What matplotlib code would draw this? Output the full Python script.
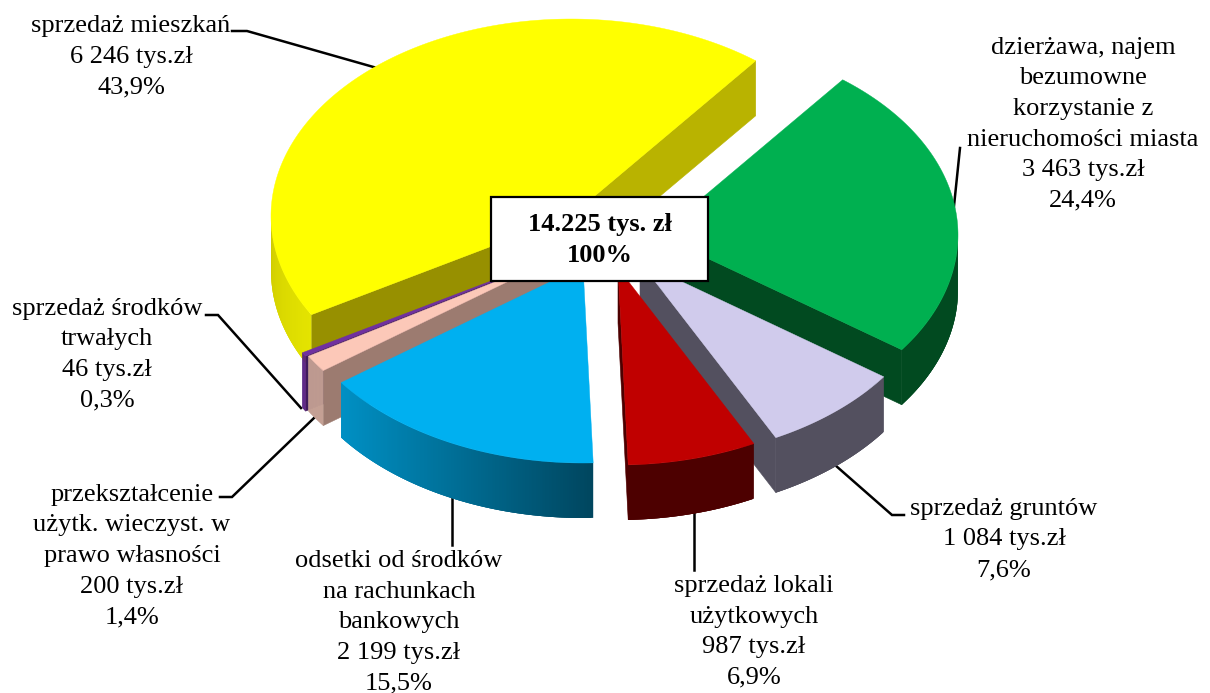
import numpy as np
import matplotlib
matplotlib.use('Agg')
import matplotlib.pyplot as plt
from matplotlib.collections import PolyCollection
from matplotlib.patches import Rectangle

# clockwise from the green slice
names = ['dzierżawa', 'grunty', 'lokale', 'odsetki', 'przeksztalcenie', 'srodki', 'mieszkania']
values = [3463, 1084, 987, 2199, 200, 46, 6246]

labels = [
    'dzierżawa, najem\nbezumowne\nkorzystanie z\nnieruchomości miasta\n3 463 tys.zł\n24,4%',
    'sprzedaż gruntów\n1 084 tys.zł\n7,6%',
    'sprzedaż lokali\nużytkowych\n987 tys.zł\n6,9%',
    'odsetki od środków\nna rachunkach\nbankowych\n2 199 tys.zł\n15,5%',
    'przekształcenie\nużytk. wieczyst. w\nprawo własności\n200 tys.zł\n1,4%',
    'sprzedaż środków\ntrwałych\n46 tys.zł\n0,3%',
    'sprzedaż mieszkań\n6 246 tys.zł\n43,9%',
]
center_text = '14.225 tys. zł\n100%'

# layout: exploded apex of every slice and label anchor, in pixels
apex = {'dzierżawa': (658, 235), 'grunty': (640, 262), 'lokale': (618, 268), 'odsetki': (583, 266),
        'przeksztalcenie': (565, 254), 'srodki': (562, 254), 'mieszkania': (571, 216)}
label_pos = [(1083, 37), (1004, 498), (754, 575), (399, 550), (132, 484), (107, 298), (131, 15)]
leaders = [
    [(954, 206), (960, 148)],
    [(835, 465), (892, 515), (904, 515)],
    [(694, 513), (694, 570)],
    [(452, 497), (452, 545)],
    [(314, 418), (232, 497), (220, 497)],
    [(301, 408), (218, 315), (206, 315)],
    [(377, 68), (247, 31), (232, 31)],
]

# top, first radial wall, second radial wall, outer wall left / right
styles = {
    'dzierżawa': ('#00b050', '#014a20', '#014a20', '#014a20', '#014a20'),
    'grunty': ('#d0cbec', '#53505f', '#53505f', '#53505f', '#53505f'),
    'lokale': ('#c00000', '#4d0000', '#4d0000', '#4d0000', '#4d0000'),
    'odsetki': ('#00b0f0', '#004a68', '#004a68', '#0090c4', '#00465f'),
    'przeksztalcenie': ('#fcc8b8', '#9c7b70', '#9c7b70', '#c4a094', '#c4a094'),
    'srodki': ('#7030a0', '#3f1b5c', '#3f1b5c', '#5f2a88', '#5f2a88'),
    'mieszkania': ('#ffff00', '#979000', '#b9b300', '#e4e400', '#d0cc00'),
}
draw_order = ['mieszkania', 'srodki', 'przeksztalcenie', 'dzierżawa', 'grunty', 'lokale', 'odsetki']

rx, ry, depth = 300, 197, 55
start_angle = 52

plt.rcParams['font.family'] = ['Liberation Serif', 'DejaVu Serif']
fig = plt.figure(figsize=(12.1, 6.93), dpi=100)
ax = fig.add_axes([0, 0, 1, 1])
ax.set_xlim(0, 1210)
ax.set_ylim(693, 0)
ax.axis('off')

for pts in leaders:
    ax.plot(*zip(*pts), color='black', lw=1.8, solid_joinstyle='miter', zorder=1)

# slice angles come from the values, going clockwise
sweep = np.array(values) / sum(values) * 360
ends = start_angle - np.cumsum(sweep)
starts = ends + sweep
angles = {n: (s, e) for n, s, e in zip(names, starts, ends)}


def rim(cx, cy, a):
    a = np.radians(a)
    return cx + rx * np.cos(a), cy - ry * np.sin(a)


def lerp_color(c1, c2, t):
    c1 = np.array(matplotlib.colors.to_rgb(c1))
    c2 = np.array(matplotlib.colors.to_rgb(c2))
    return tuple(c1 + (c2 - c1) * t)


z = 2
for name in draw_order:
    top, wall1, wall2, out_l, out_r = styles[name]
    a0, a1 = angles[name]
    cx, cy = apex[name]
    mid = (a0 + a1) / 2
    th = np.linspace(a0, a1, 160)
    xs, ys = rim(cx, cy, th)

    # radial walls, skip the ones hidden under the slice
    mx, my = rim(cx, cy, mid)
    for a, col in ((a0, wall1), (a1, wall2)):
        px, py = rim(cx, cy, a)
        side = (px - cx) * (my - cy) - (py - cy) * (mx - cx)
        if side * (px - cx) > 0:
            continue
        ax.fill([cx, px, px, cx], [cy, py, py + depth, cy + depth], color=col, lw=0.4, zorder=z)
    z += 1

    # outer wall, cut in overlapping strips so the colour can run across it
    polys, cols = [], []
    xmin, xmax = xs.min(), xs.max()
    for i in range(len(th) - 1):
        j = min(i + 3, len(th) - 1)
        if np.sin(np.radians(th[i])) > 0 and np.sin(np.radians(th[j])) > 0:
            continue
        polys.append([(xs[i], ys[i]), (xs[j], ys[j]), (xs[j], ys[j] + depth), (xs[i], ys[i] + depth)])
        t = (xs[i] - xmin) / max(xmax - xmin, 1)
        cols.append(lerp_color(out_l, out_r, t))
    if name == 'mieszkania':
        # only the part below the left extreme shows
        cols = [lerp_color(out_l, out_r, k / max(len(cols) - 1, 1)) for k in range(len(cols))]
    if polys:
        ax.add_collection(PolyCollection(polys, facecolors=cols, edgecolors='none', zorder=z))
    z += 1

    ax.fill(np.r_[cx, xs], np.r_[cy, ys], color=top, lw=0.3, zorder=z)
    z += 1

for txt, (lx, ly) in zip(labels, label_pos):
    ax.text(lx, ly, txt, ha='center', va='top', fontsize=19, linespacing=1.5, color='black', zorder=100)

ax.add_patch(Rectangle((491, 197), 217, 84, facecolor='white', edgecolor='black', lw=1.6, zorder=101))
ax.text(599.5, 240, center_text, ha='center', va='center', fontsize=19, fontweight='bold',
        linespacing=1.5, color='black', zorder=102)

fig.savefig('out.png', dpi=100)
